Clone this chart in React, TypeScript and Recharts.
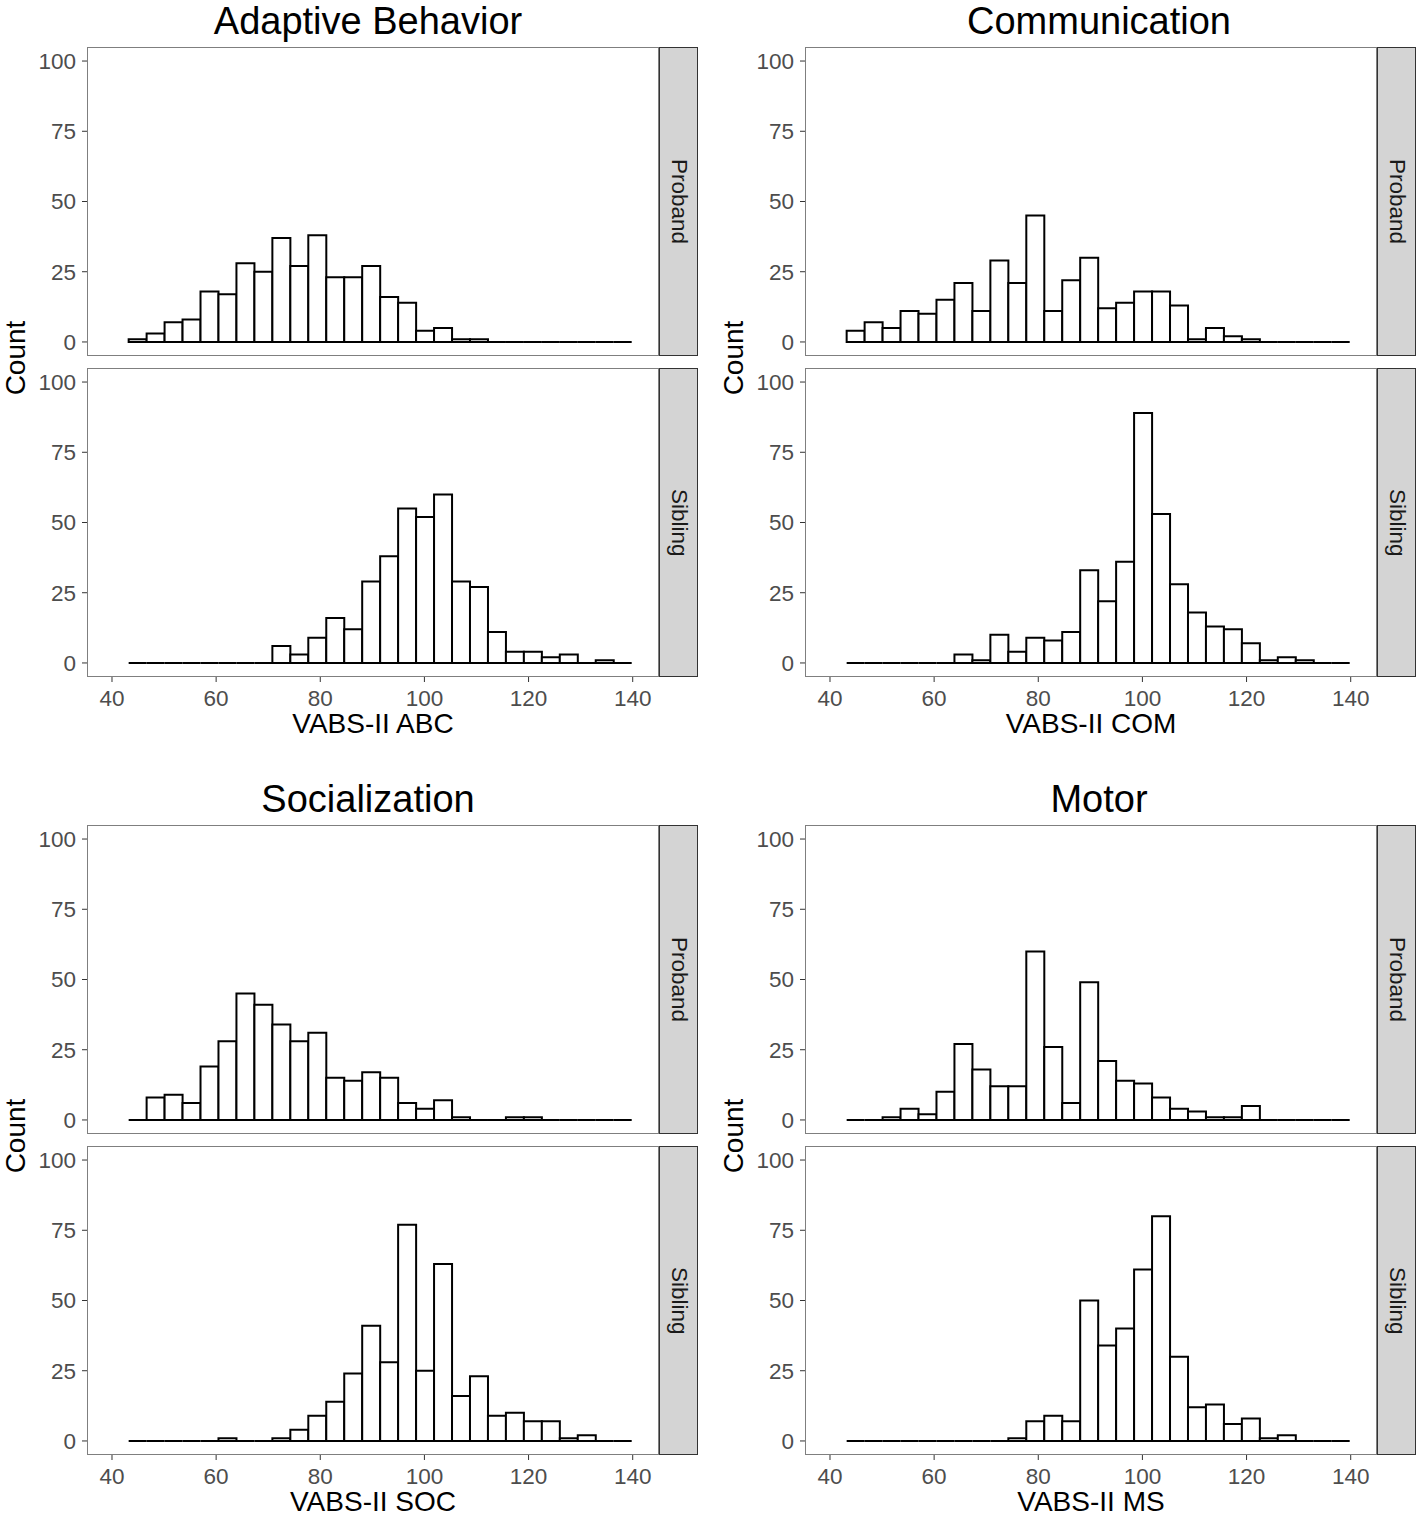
import { BarChart, Bar, XAxis, YAxis } from 'recharts';

// histogram bins (shared by every facet)
const BIN_START = 43.2;
const BIN_WIDTH = 3.45;
const X_TICKS = [40, 60, 80, 100, 120, 140];
const Y_TICKS = [0, 25, 50, 75, 100];
const GROUPS = ['Proband', 'Sibling'];

// counts per bin
const ABC_PROBAND = [1, 3, 7, 8, 18, 17, 28, 25, 37, 27, 38, 23, 23, 27, 16, 14, 4, 5, 1, 1, 0, 0, 0, 0, 0, 0, 0, 0];
const ABC_SIBLING = [0, 0, 0, 0, 0, 0, 0, 0, 6, 3, 9, 16, 12, 29, 38, 55, 52, 60, 29, 27, 11, 4, 4, 2, 3, 0, 1, 0];
const COM_PROBAND = [4, 7, 5, 11, 10, 15, 21, 11, 29, 21, 45, 11, 22, 30, 12, 14, 18, 18, 13, 1, 5, 2, 1, 0, 0, 0, 0, 0];
const COM_SIBLING = [0, 0, 0, 0, 0, 0, 3, 1, 10, 4, 9, 8, 11, 33, 22, 36, 89, 53, 28, 18, 13, 12, 7, 1, 2, 1, 0, 0];
const SOC_PROBAND = [0, 8, 9, 6, 19, 28, 45, 41, 34, 28, 31, 15, 14, 17, 15, 6, 4, 7, 1, 0, 0, 1, 1, 0, 0, 0, 0, 0];
const SOC_SIBLING = [0, 0, 0, 0, 0, 1, 0, 0, 1, 4, 9, 14, 24, 41, 28, 77, 25, 63, 16, 23, 9, 10, 7, 7, 1, 2, 0, 0];
const MS_PROBAND = [0, 0, 1, 4, 2, 10, 27, 18, 12, 12, 60, 26, 6, 49, 21, 14, 13, 8, 4, 3, 1, 1, 5, 0, 0, 0, 0, 0];
const MS_SIBLING = [0, 0, 0, 0, 0, 0, 0, 0, 0, 1, 7, 9, 7, 50, 34, 40, 61, 80, 30, 12, 13, 6, 8, 1, 2, 0, 0, 0];

const PANELS = [
  { title: 'Adaptive Behavior', xLabel: 'VABS-II ABC', series: [ABC_PROBAND, ABC_SIBLING], dx: 0, dy: 0, titleX: 368 },
  { title: 'Communication', xLabel: 'VABS-II COM', series: [COM_PROBAND, COM_SIBLING], dx: 718, dy: 0, titleX: 381 },
  { title: 'Socialization', xLabel: 'VABS-II SOC', series: [SOC_PROBAND, SOC_SIBLING], dx: 0, dy: 778, titleX: 368 },
  { title: 'Motor', xLabel: 'VABS-II MS', series: [MS_PROBAND, MS_SIBLING], dx: 718, dy: 778, titleX: 381 },
];

// layout (px, relative to a panel's origin)
const PLOT_L = 87;
const PLOT_R = 659;
const STRIP_R = 698;
const FACET_TOP = [47, 368];
const FACET_H = 309;
const X_AXIS_H = 40;
const FONT = '"Liberation Sans", Arial, sans-serif';
const TICK = { fill: '#4d4d4d', fontSize: 22.5 };

function HistBar(props: any) {
  const { x, y, width, height } = props;
  const y0 = y + height;
  return (
    <path
      d={`M${x},${y0}V${y}H${x + width}V${y0}Z`}
      fill="#ffffff"
      stroke="#000000"
      strokeWidth={2}
    />
  );
}

function Facet({ values, group, top, showX }: { values: number[]; group: string; top: number; showX: boolean }) {
  const data = values.map((count, i) => ({ mid: BIN_START + BIN_WIDTH * (i + 0.5), count }));
  const h = FACET_H + (showX ? X_AXIS_H : 0);
  return (
    <div style={{ position: 'absolute', left: 0, top }}>
      <BarChart
        width={PLOT_R}
        height={h}
        data={data}
        margin={{ top: 0, right: 0, bottom: 0, left: 0 }}
        barCategoryGap={0}
        barGap={0}
      >
        <XAxis
          dataKey="mid"
          type="number"
          domain={[35.2, 145.05]}
          ticks={X_TICKS}
          interval={0}
          allowDataOverflow
          hide={!showX}
          height={X_AXIS_H}
          axisLine={false}
          tickLine={{ stroke: '#333333' }}
          tickSize={5}
          tickMargin={8}
          tick={TICK}
        />
        <YAxis
          type="number"
          domain={[-5, 105]}
          ticks={Y_TICKS}
          interval={0}
          allowDataOverflow
          width={PLOT_L}
          axisLine={false}
          tickLine={{ stroke: '#333333' }}
          tickSize={5}
          tickMargin={6}
          tick={TICK}
        />
        <Bar dataKey="count" shape={<HistBar />} isAnimationActive={false} />
      </BarChart>
      <div
        style={{
          position: 'absolute',
          left: PLOT_L,
          top: 0,
          width: PLOT_R - PLOT_L,
          height: FACET_H,
          boxSizing: 'border-box',
          border: '1px solid #7f7f7f',
          pointerEvents: 'none',
        }}
      />
      <div
        style={{
          position: 'absolute',
          left: PLOT_R,
          top: 0,
          width: STRIP_R - PLOT_R,
          height: FACET_H,
          boxSizing: 'border-box',
          border: '1px solid #333333',
          background: '#d4d4d4',
          display: 'flex',
          alignItems: 'center',
          justifyContent: 'center',
        }}
      >
        <span style={{ writingMode: 'vertical-rl', fontSize: 22.5, color: '#1a1a1a' }}>{group}</span>
      </div>
    </div>
  );
}

function Panel({ p }: { p: (typeof PANELS)[number] }) {
  const center = (PLOT_L + PLOT_R) / 2;
  return (
    <div style={{ position: 'absolute', left: p.dx, top: p.dy, width: 718, height: 740 }}>
      <div
        style={{
          position: 'absolute',
          left: p.titleX - 300,
          width: 600,
          top: 0,
          textAlign: 'center',
          fontSize: 38,
          lineHeight: 1.117,
          color: '#000',
        }}
      >
        {p.title}
      </div>
      {GROUPS.map((g, i) => (
        <Facet key={g} values={p.series[i]} group={g} top={FACET_TOP[i]} showX={i === 1} />
      ))}
      <div
        style={{
          position: 'absolute',
          left: center - 200,
          width: 400,
          top: 708,
          textAlign: 'center',
          fontSize: 28,
          lineHeight: 1.117,
          color: '#000',
        }}
      >
        {p.xLabel}
      </div>
      <div
        style={{
          position: 'absolute',
          left: 16 - 60,
          top: 358 - 16,
          width: 120,
          height: 32,
          textAlign: 'center',
          fontSize: 28,
          lineHeight: '32px',
          color: '#000',
          transform: 'rotate(-90deg)',
        }}
      >
        Count
      </div>
    </div>
  );
}

export default function App() {
  return (
    <div
      style={{
        position: 'absolute',
        left: 0,
        top: 0,
        width: 1418,
        height: 1518,
        background: '#ffffff',
        fontFamily: FONT,
        overflow: 'hidden',
      }}
    >
      {PANELS.map((p) => (
        <Panel key={p.title} p={p} />
      ))}
    </div>
  );
}
